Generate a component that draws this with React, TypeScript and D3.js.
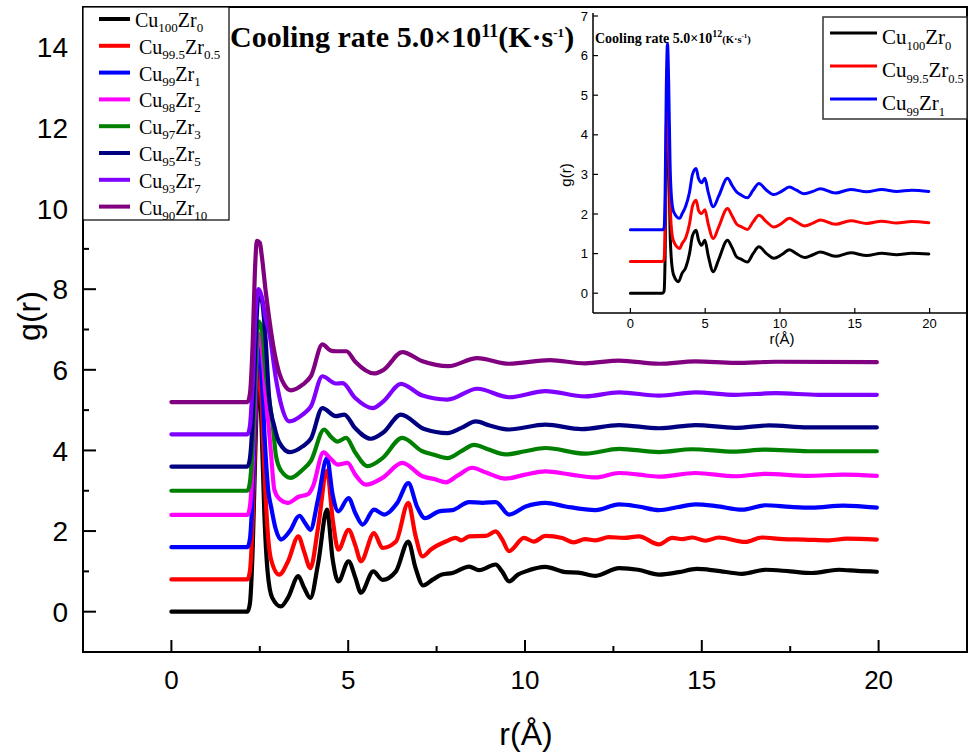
import React from "react";
import * as d3 from "d3";

type Pt = [number, number];

// ---------- main chart data (raw g(r), shifted by offsets when drawn) ----------
const cu100Zr0: Pt[] = [[0,0],[2.15,0],[2.22,0.2],[2.3,1.6],[2.38,4.2],[2.46,6.0],[2.55,4.6],[2.63,2.4],[2.72,1.0],[2.85,0.35],[3.1,0.13],[3.3,0.35],[3.59,0.88],[3.75,0.6],[3.93,0.34],[4.15,1.2],[4.4,2.53],[4.56,1.3],[4.72,0.75],[5.01,1.25],[5.2,0.85],[5.36,0.47],[5.71,1.0],[5.97,0.79],[6.35,1.0],[6.7,1.74],[6.9,1.1],[7.12,0.65],[7.4,0.8],[7.65,0.92],[7.95,0.96],[8.42,1.12],[8.7,1.03],[9.17,1.17],[9.35,1.0],[9.55,0.75],[9.8,0.92],[10.02,1.0],[10.58,1.11],[11.15,0.98],[11.5,0.97],[12.0,0.89],[12.66,1.08],[13.2,1.04],[13.79,0.92],[14.35,0.98],[14.85,1.06],[15.4,1.02],[16.14,0.94],[16.8,1.04],[17.5,1.0],[18.11,0.96],[18.87,1.04],[19.4,1.01],[19.95,0.99]];
const cu995Zr05: Pt[] = [[0,0],[2.15,0],[2.22,0.2],[2.3,1.5],[2.38,3.9],[2.46,5.5],[2.55,4.4],[2.65,2.3],[2.74,1.0],[2.82,0.49],[3.05,0.12],[3.3,0.45],[3.59,1.07],[3.75,0.7],[3.93,0.28],[4.15,1.3],[4.4,2.7],[4.56,1.5],[4.72,0.74],[5.01,1.23],[5.2,0.85],[5.36,0.45],[5.73,1.15],[5.97,0.78],[6.35,0.94],[6.7,1.9],[6.9,1.1],[7.1,0.57],[7.35,0.75],[7.76,0.94],[8.04,1.03],[8.2,0.97],[8.42,1.07],[8.89,1.08],[9.17,1.19],[9.35,1.0],[9.55,0.7],[9.97,1.03],[10.25,0.94],[10.58,1.08],[11.05,1.03],[11.38,0.92],[11.7,1.0],[12.0,0.97],[12.37,1.05],[12.8,1.03],[13.22,1.07],[13.79,0.87],[14.16,1.03],[14.45,1.0],[14.73,1.04],[15.1,0.96],[15.48,1.04],[16.23,0.93],[16.7,1.04],[17.3,1.0],[17.9,0.99],[18.6,0.97],[19.1,1.01],[19.95,0.99]];
const cu99Zr1: Pt[] = [[0,0],[2.15,0],[2.22,0.2],[2.3,1.4],[2.38,3.6],[2.46,5.2],[2.55,4.3],[2.65,2.5],[2.74,1.4],[2.82,1.0],[2.95,0.45],[3.1,0.19],[3.35,0.4],[3.62,0.78],[3.78,0.6],[3.93,0.43],[4.15,1.2],[4.4,2.21],[4.56,1.3],[4.72,0.89],[5.01,1.22],[5.2,0.85],[5.41,0.56],[5.73,0.93],[6.02,0.81],[6.39,1.1],[6.7,1.59],[6.95,1.0],[7.17,0.72],[7.57,0.89],[7.95,0.92],[8.42,1.12],[8.8,1.1],[9.17,1.12],[9.55,0.81],[10.02,1.01],[10.58,1.1],[11.15,1.01],[12.0,0.92],[12.66,1.06],[13.2,1.01],[13.79,0.92],[14.3,0.99],[14.82,1.06],[15.4,1.02],[16.14,0.93],[16.8,1.04],[17.5,1.0],[18.11,0.98],[19.0,1.03],[19.95,0.98]];
const cu98Zr2: Pt[] = [[0,0],[2.15,0],[2.22,0.2],[2.3,1.3],[2.38,3.3],[2.46,4.5],[2.56,4.1],[2.66,3.0],[2.75,2.2],[2.82,1.5],[2.91,0.63],[3.05,0.4],[3.29,0.3],[3.6,0.45],[3.87,0.52],[4.0,0.7],[4.3,1.55],[4.5,1.4],[4.7,1.25],[4.98,1.29],[5.2,1.0],[5.5,0.75],[5.97,0.92],[6.53,1.29],[7.1,0.96],[7.48,0.88],[7.76,0.81],[8.1,0.98],[8.51,1.17],[8.9,1.05],[9.45,0.9],[10.0,1.0],[10.58,1.08],[11.3,1.0],[12.0,0.93],[12.66,1.04],[13.22,1.0],[13.79,0.95],[14.82,1.04],[15.95,0.96],[16.8,1.02],[18.0,0.97],[19.0,1.0],[19.95,0.97]];
const cu97Zr3: Pt[] = [[0,0],[2.15,0],[2.22,0.2],[2.3,1.2],[2.38,3.0],[2.46,4.2],[2.56,4.0],[2.66,3.0],[2.76,2.3],[2.86,1.68],[2.96,0.85],[3.1,0.5],[3.38,0.32],[3.71,0.52],[3.95,0.75],[4.32,1.52],[4.5,1.35],[4.7,1.22],[4.94,1.31],[5.2,0.95],[5.55,0.61],[5.97,0.81],[6.53,1.31],[7.1,0.98],[7.4,0.9],[7.81,0.81],[8.2,0.98],[8.56,1.14],[8.95,1.03],[9.45,0.9],[10.0,0.98],[10.58,1.06],[11.71,0.92],[12.66,1.04],[13.79,0.96],[14.73,1.03],[15.9,0.97],[16.8,1.02],[18.0,0.98],[19.95,0.98]];
const cu95Zr5: Pt[] = [[0,0],[2.15,0],[2.22,0.2],[2.3,1.2],[2.38,3.1],[2.46,4.2],[2.56,4.1],[2.66,3.2],[2.77,1.66],[2.91,1.0],[3.05,0.6],[3.35,0.36],[3.71,0.5],[3.95,0.7],[4.27,1.45],[4.65,1.25],[4.89,1.29],[5.2,0.95],[5.64,0.69],[6.0,0.85],[6.49,1.29],[7.15,0.93],[7.81,0.83],[8.2,0.96],[8.61,1.12],[9.0,1.02],[9.55,0.92],[10.58,1.04],[11.6,0.93],[12.66,1.03],[13.79,0.95],[14.82,1.03],[15.95,0.96],[16.9,1.02],[18.0,0.97],[19.95,0.97]];
const cu93Zr7: Pt[] = [[0,0],[2.15,0],[2.22,0.2],[2.3,1.3],[2.38,3.0],[2.46,3.6],[2.56,3.4],[2.66,2.9],[2.77,2.51],[2.96,1.36],[3.1,0.75],[3.33,0.32],[3.71,0.49],[3.95,0.7],[4.27,1.44],[4.65,1.26],[4.84,1.27],[5.2,0.9],[5.69,0.65],[6.0,0.82],[6.49,1.25],[7.1,0.96],[7.81,0.86],[8.65,1.13],[9.55,0.92],[10.58,1.07],[11.7,0.94],[12.66,1.04],[13.79,0.96],[14.82,1.04],[15.95,0.98],[17.1,1.02],[18.3,0.98],[19.95,0.98]];
const cu90Zr10: Pt[] = [[0,0],[2.15,0],[2.22,0.2],[2.3,1.5],[2.36,3.2],[2.42,4.0],[2.5,3.95],[2.56,3.6],[2.66,2.8],[2.77,2.05],[2.9,1.3],[3.05,0.72],[3.2,0.42],[3.38,0.29],[3.71,0.43],[3.95,0.65],[4.27,1.43],[4.5,1.28],[4.65,1.26],[4.95,1.26],[5.2,1.0],[5.73,0.71],[6.0,0.8],[6.53,1.24],[7.1,1.01],[7.83,0.89],[8.65,1.09],[9.55,0.95],[10.7,1.04],[11.7,0.96],[12.66,1.03],[13.79,0.95],[14.82,1.01],[15.95,0.97],[17.1,1.0],[19.95,0.99]];

const mainSeries = [cu100Zr0, cu995Zr05, cu99Zr1, cu98Zr2, cu97Zr3, cu95Zr5, cu93Zr7, cu90Zr10];
const mainOffsets = [0, 0.8, 1.6, 2.4, 3.0, 3.6, 4.4, 5.2];
const mainColors = ["#000000", "#ff0000", "#0000ff", "#ff00ff", "#008000", "#000080", "#8000ff", "#800080"];
const cuSub = ["100", "99.5", "99", "98", "97", "95", "93", "90"];
const zrSub = ["0", "0.5", "1", "2", "3", "5", "7", "10"];

const xTicks = [0, 5, 10, 15, 20];
const xMinor = [2.5, 7.5, 12.5, 17.5];
const yTicks = [0, 2, 4, 6, 8, 10, 12, 14];
const yMinor = [1, 3, 5, 7, 9, 11, 13];

// ---------- inset data ----------
const insetCu100Zr0: Pt[] = [[0,0],[2.15,0],[2.25,0.05],[2.32,0.9],[2.4,3.5],[2.48,4.6],[2.56,3.6],[2.65,1.6],[2.75,0.8],[2.9,0.45],[3.21,0.29],[3.45,0.5],[3.7,0.65],[3.95,1.0],[4.15,1.45],[4.39,1.59],[4.55,1.35],[4.76,1.21],[4.98,1.34],[5.2,0.95],[5.54,0.54],[5.9,0.85],[6.49,1.34],[6.8,1.15],[7.09,0.92],[7.4,0.86],[7.82,0.79],[8.2,1.0],[8.59,1.17],[9.1,1.0],[9.59,0.88],[10.1,0.97],[10.63,1.1],[11.1,1.0],[11.63,0.9],[12.2,0.97],[12.69,1.04],[13.7,0.93],[14.73,1.02],[15.8,0.95],[16.8,1.01],[17.8,0.97],[18.8,1.01],[19.95,0.99]];
const insetCu995Zr05: Pt[] = [[0,0],[2.15,0],[2.25,0.05],[2.32,0.9],[2.4,3.3],[2.48,4.2],[2.56,3.4],[2.65,1.6],[2.75,0.8],[2.9,0.5],[3.3,0.33],[3.45,0.45],[3.7,0.6],[3.95,0.95],[4.15,1.4],[4.39,1.55],[4.55,1.3],[4.76,1.21],[4.98,1.31],[5.2,0.95],[5.54,0.58],[5.9,0.87],[6.49,1.34],[6.8,1.15],[7.09,0.95],[7.4,0.88],[7.82,0.81],[8.2,1.0],[8.59,1.17],[9.1,1.0],[9.59,0.87],[10.1,0.96],[10.63,1.09],[11.1,1.0],[11.63,0.9],[12.2,0.97],[12.69,1.05],[13.7,0.94],[14.73,1.03],[15.8,0.96],[16.8,1.02],[17.8,0.97],[18.8,1.01],[19.95,0.98]];
const insetCu99Zr1: Pt[] = [[0,0],[2.15,0],[2.25,0.05],[2.32,0.9],[2.4,3.6],[2.48,4.7],[2.56,3.7],[2.65,1.7],[2.75,0.8],[2.9,0.45],[3.3,0.29],[3.45,0.4],[3.7,0.6],[3.95,0.95],[4.15,1.4],[4.39,1.55],[4.55,1.3],[4.76,1.19],[4.98,1.3],[5.2,0.95],[5.54,0.58],[5.9,0.85],[6.49,1.3],[6.8,1.12],[7.09,0.96],[7.4,0.88],[7.82,0.81],[8.2,1.0],[8.59,1.17],[9.1,1.0],[9.59,0.89],[10.1,0.97],[10.63,1.08],[11.1,1.0],[11.63,0.91],[12.2,0.97],[12.69,1.04],[13.7,0.93],[14.73,1.02],[15.8,0.96],[16.8,1.02],[17.8,0.97],[18.8,1.0],[19.95,0.97]];

const insetSeries = [insetCu100Zr0, insetCu995Zr05, insetCu99Zr1];
const insetOffsets = [0, 0.8, 1.6];
const insetColors = ["#000000", "#ff0000", "#0000ff"];
const insetCuSub = ["100", "99.5", "99"];
const insetZrSub = ["0", "0.5", "1"];
const insetXTicks = [0, 5, 10, 15, 20];
const insetYTicks = [0, 1, 2, 3, 4, 5, 6, 7];

const SANS = "'Liberation Sans', Arial, Helvetica, sans-serif";
const SERIF = "'Liberation Serif', 'Times New Roman', serif";

export default function App() {
  // main scales
  const x = d3.scaleLinear().domain([-2.5, 22.5]).range([83, 967]);
  const y = d3.scaleLinear().domain([-1, 15]).range([652, 7]);
  // inset scales
  const ix = d3.scaleLinear().domain([-2.5, 22.5]).range([593, 967]);
  const iy = d3.scaleLinear().domain([-0.5, 7]).range([313, 16]);

  const mainLine = (off: number) =>
    d3.line<Pt>().x((d) => x(d[0])).y((d) => y(d[1] + off)).curve(d3.curveMonotoneX);
  const insetLine = (off: number) =>
    d3.line<Pt>().x((d) => ix(d[0])).y((d) => iy(d[1] + off)).curve(d3.curveMonotoneX);

  const [x0, x1] = x.range();
  const [yb, yt] = y.range();

  return (
    <svg
      width={969}
      height={753}
      style={{ position: "absolute", left: 0, top: 0, background: "#fff" }}
    >
      <rect x={0} y={0} width={969} height={753} fill="#fff" />

      {/* main curves */}
      {mainSeries.map((s, i) => (
        <path
          key={"m" + i}
          d={mainLine(mainOffsets[i])(s) || ""}
          fill="none"
          stroke={mainColors[i]}
          strokeWidth={4.2}
          strokeLinejoin="round"
          strokeLinecap="round"
        />
      ))}

      {/* main frame */}
      <rect x={x0} y={yt} width={x1 - x0} height={yb - yt} fill="none" stroke="#000" strokeWidth={2} />

      {/* x ticks */}
      {xTicks.map((t) => (
        <g key={"xt" + t}>
          <line x1={x(t)} x2={x(t)} y1={yb} y2={yb - 12} stroke="#000" strokeWidth={2} />
          <text x={x(t)} y={689} textAnchor="middle" fontFamily={SANS} fontSize={26} fill="#000">
            {t}
          </text>
        </g>
      ))}
      {xMinor.map((t) => (
        <line key={"xm" + t} x1={x(t)} x2={x(t)} y1={yb} y2={yb - 6} stroke="#000" strokeWidth={2} />
      ))}
      {/* y ticks */}
      {yTicks.map((t) => (
        <g key={"yt" + t}>
          <line x1={x0} x2={x0 + 13} y1={y(t)} y2={y(t)} stroke="#000" strokeWidth={2} />
          <text x={68} y={y(t)} dy="0.36em" textAnchor="end" fontFamily={SANS} fontSize={28} fill="#000">
            {t}
          </text>
        </g>
      ))}
      {yMinor.map((t) => (
        <line key={"ym" + t} x1={x0} x2={x0 + 6} y1={y(t)} y2={y(t)} stroke="#000" strokeWidth={2} />
      ))}

      {/* axis titles */}
      <text x={526} y={745} textAnchor="middle" fontFamily={SANS} fontSize={32} fill="#000">
        r(Å)
      </text>
      <text
        transform="translate(40,316) rotate(-90)"
        textAnchor="middle"
        fontFamily={SANS}
        fontSize={32}
        fill="#000"
      >
        g(r)
      </text>

      {/* main legend */}
      <rect x={83} y={7} width={146} height={213} fill="#fff" stroke="#000" strokeWidth={1.2} />
      {mainColors.map((c, i) => {
        const ly = 19 + i * 26.8;
        return (
          <g key={"lg" + i}>
            <line x1={99} x2={130} y1={ly} y2={ly} stroke={c} strokeWidth={4} />
            <text x={i === 0 ? 135 : 139} y={ly + 8} fontFamily={SERIF} fontSize={20} fill="#000">
              <tspan>Cu</tspan>
              <tspan fontSize={13} dy={5}>{cuSub[i]}</tspan>
              <tspan dy={-5}>Zr</tspan>
              <tspan fontSize={13} dy={5}>{zrSub[i]}</tspan>
            </text>
          </g>
        );
      })}

      {/* main title */}
      <text x={230} y={47} fontFamily={SERIF} fontWeight="bold" fontSize={30} fill="#000">
        <tspan>Cooling rate 5.0×10</tspan>
        <tspan fontSize={18} dy={-10}>11</tspan>
        <tspan dy={10}>(K·s</tspan>
        <tspan fontSize={13} dy={-10}>-1</tspan>
        <tspan dy={10}>)</tspan>
      </text>

      {/* ---------- inset ---------- */}
      {insetSeries.map((s, i) => (
        <path
          key={"i" + i}
          d={insetLine(insetOffsets[i])(s) || ""}
          fill="none"
          stroke={insetColors[i]}
          strokeWidth={3}
          strokeLinejoin="round"
          strokeLinecap="round"
        />
      ))}
      <line x1={593} x2={593} y1={13} y2={313} stroke="#000" strokeWidth={1.5} />
      <line x1={593} x2={967} y1={313} y2={313} stroke="#000" strokeWidth={1.5} />
      {insetXTicks.map((t) => (
        <g key={"ixt" + t}>
          <line x1={ix(t)} x2={ix(t)} y1={313} y2={308} stroke="#000" strokeWidth={1.2} />
          <text x={ix(t)} y={328} textAnchor="middle" fontFamily={SANS} fontSize={13} fill="#000">
            {t}
          </text>
        </g>
      ))}
      {insetYTicks.map((t) => (
        <g key={"iyt" + t}>
          <line x1={593} x2={598} y1={iy(t)} y2={iy(t)} stroke="#000" strokeWidth={1.2} />
          <text x={588} y={iy(t)} dy="0.36em" textAnchor="end" fontFamily={SANS} fontSize={13} fill="#000">
            {t}
          </text>
        </g>
      ))}
      <text x={782} y={344} textAnchor="middle" fontFamily={SANS} fontSize={15} fill="#000">
        r(Å)
      </text>
      <text
        transform="translate(571,175) rotate(-90)"
        textAnchor="middle"
        fontFamily={SANS}
        fontSize={15}
        fill="#000"
      >
        g(r)
      </text>

      {/* inset title */}
      <text x={595} y={43} fontFamily={SERIF} fontWeight="bold" fontSize={14} fill="#000">
        <tspan>Cooling rate 5.0×10</tspan>
        <tspan fontSize={10} dy={-6}>12</tspan>
        <tspan fontSize={10.5} dy={6}>(K·s</tspan>
        <tspan fontSize={7} dy={-5}>-1</tspan>
        <tspan fontSize={10.5} dy={5}>)</tspan>
      </text>

      {/* inset legend */}
      <rect x={823} y={17} width={144} height={102} fill="#fff" stroke="#333" strokeWidth={1.5} />
      {insetColors.map((c, i) => {
        const ly = 33 + i * 33;
        return (
          <g key={"ilg" + i}>
            <line x1={830} x2={877} y1={ly} y2={ly} stroke={c} strokeWidth={3} />
            <text x={882} y={ly + 11} fontFamily={SERIF} fontSize={21} fill="#000">
              <tspan>Cu</tspan>
              <tspan fontSize={12.5} dy={6}>{insetCuSub[i]}</tspan>
              <tspan dy={-6}>Zr</tspan>
              <tspan fontSize={12.5} dy={6}>{insetZrSub[i]}</tspan>
            </text>
          </g>
        );
      })}
    </svg>
  );
}
